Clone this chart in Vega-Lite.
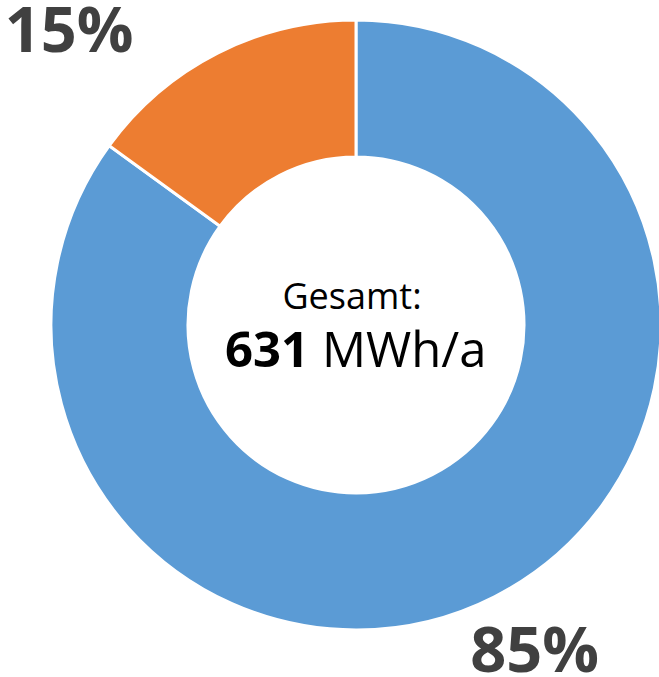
{
  "$schema": "https://vega.github.io/schema/vega-lite/v6.json",
  "width": 600,
  "height": 600,
  "autosize": {"type": "none"},
  "padding": {"left": 56, "top": 25, "right": 3, "bottom": 52},
  "background": "white",
  "config": {"view": {"stroke": null}},
  "datasets": {
    "shares": [
      {"cat": "A", "ord": 1, "value": 85, "label": "85%"},
      {"cat": "B", "ord": 2, "value": 15, "label": "15%"}
    ],
    "center": [
      {"t1": "Gesamt:", "num": "631", "unit": "MWh/a"}
    ]
  },
  "layer": [
    {
      "data": {"name": "shares"},
      "mark": {"type": "arc", "outerRadius": 305, "innerRadius": 168, "stroke": "white", "strokeWidth": 3},
      "encoding": {
        "theta": {"field": "value", "type": "quantitative", "stack": true},
        "order": {"field": "ord", "type": "quantitative"},
        "color": {"field": "cat", "type": "nominal", "scale": {"domain": ["A", "B"], "range": ["#5B9BD5", "#ED7D31"]}, "legend": null}
      }
    },
    {
      "data": {"name": "shares"},
      "mark": {"type": "text", "radius": 306, "dx": -148, "dy": 0, "align": "center", "baseline": "alphabetic", "font": "Open Sans", "fontWeight": "bold", "fontSize": 63, "color": "#404040"},
      "encoding": {
        "theta": {"field": "value", "type": "quantitative", "stack": true},
        "order": {"field": "ord", "type": "quantitative"},
        "text": {"condition": {"test": "datum.cat === 'B'", "field": "label"}, "value": ""}
      }
    },
    {
      "data": {"name": "shares"},
      "mark": {"type": "text", "radius": 389, "dx": 2, "dy": 0, "align": "center", "baseline": "alphabetic", "font": "Open Sans", "fontWeight": "bold", "fontSize": 63, "color": "#404040"},
      "encoding": {
        "theta": {"field": "value", "type": "quantitative", "stack": true},
        "order": {"field": "ord", "type": "quantitative"},
        "text": {"condition": {"test": "datum.cat === 'A'", "field": "label"}, "value": ""}
      }
    },
    {
      "data": {"name": "center"},
      "mark": {"type": "text", "dx": -4, "dy": -16, "align": "center", "baseline": "alphabetic", "font": "Open Sans", "fontSize": 36, "color": "#000000"},
      "encoding": {"text": {"field": "t1"}}
    },
    {
      "data": {"name": "center"},
      "mark": {"type": "text", "dx": -47, "dy": 42, "align": "right", "baseline": "alphabetic", "font": "Open Sans", "fontWeight": "bold", "fontSize": 49, "color": "#000000"},
      "encoding": {"text": {"field": "num"}}
    },
    {
      "data": {"name": "center"},
      "mark": {"type": "text", "dx": -34, "dy": 42, "align": "left", "baseline": "alphabetic", "font": "Open Sans", "fontSize": 49, "color": "#000000"},
      "encoding": {"text": {"field": "unit"}}
    }
  ]
}
